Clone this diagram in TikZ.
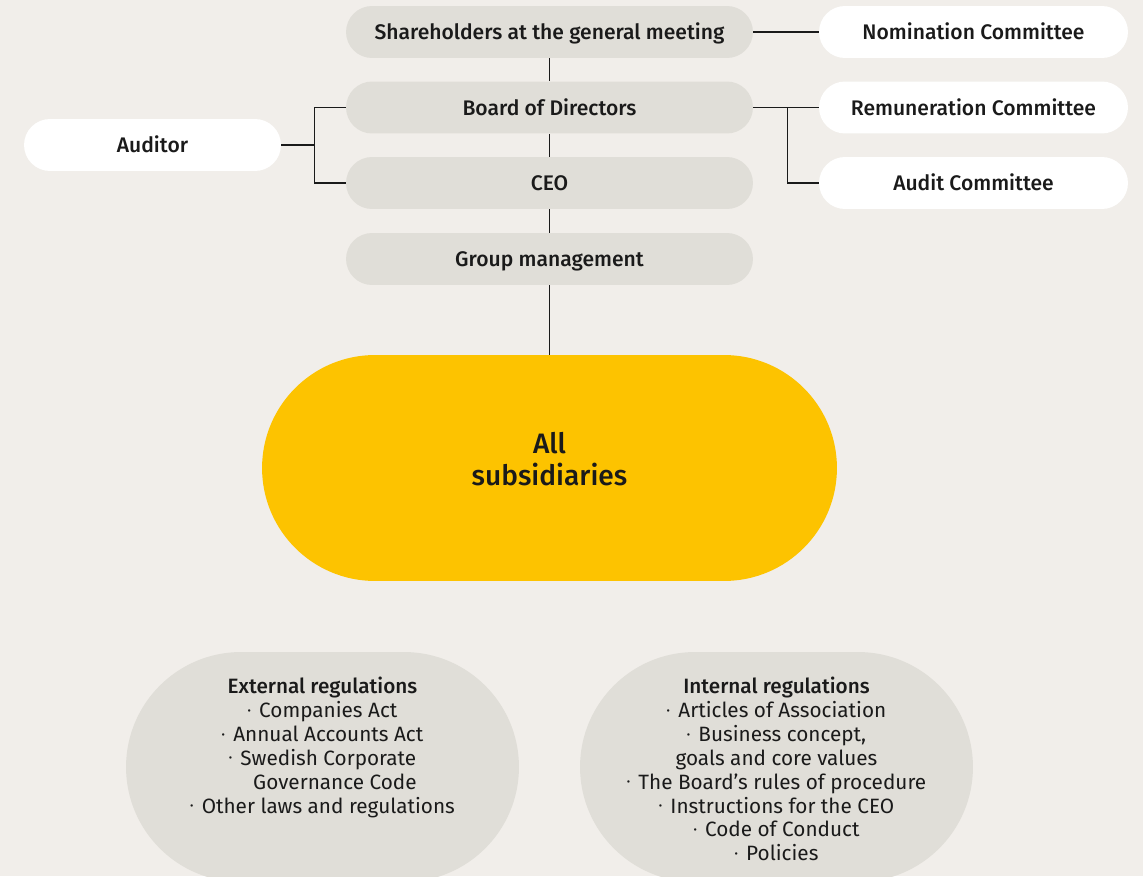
\documentclass[tikz,border=0pt]{standalone}
\usepackage{fontspec}
\setmainfont{Fira Sans}
\IfFontExistsTF{Fira Sans Medium}
  {\newfontfamily\medfont{Fira Sans Medium}}
  {\newfontfamily\medfont{Fira Sans}}
\usetikzlibrary{positioning}

\definecolor{paper}{HTML}{F1EEEA}
\definecolor{stone}{HTML}{E0DED8}
\definecolor{gold}{HTML}{FDC300}
\definecolor{ink}{HTML}{1A1A1A}

\newcommand{\blt}{\raisebox{0.3ex}{\scalebox{0.5}{•}}\hspace{0.4em}}

\begin{document}
\begin{tikzpicture}[x=0.02cm, y=-0.02cm,
    pill/.style={rectangle, rounded corners=0.52cm, minimum height=1.04cm,
                 inner sep=0pt, text height=1.05em, text depth=0.15em,
                 text=ink, font=\medfont\fontsize{12}{14}\selectfont},
    organ/.style={pill, fill=stone, minimum width=8.14cm},
    side/.style={pill, fill=white, minimum width=6.18cm},
    regbox/.style={rectangle, fill=stone, rounded corners=2.3cm,
                   minimum width=7.86cm, minimum height=4.6cm},
    reglist/.style={align=center, inner sep=0pt, text=ink,
                    font=\fontsize{11.8}{13.6}\selectfont},
    link/.style={draw=ink, line width=0.6pt}]

    % background and page frame
    \fill[paper] (0,0) rectangle (1143,876);
    \useasboundingbox (0,0) rectangle (1143,876);
    \clip (0,0) rectangle (1143,876);

    % company bodies
    \node[organ] (share) at (549.5,32)  {Shareholders at the general meeting};
    \node[organ] (board) at (549.5,107.5) {Board of Directors};
    \node[organ] (ceo)   at (549.5,183) {CEO};
    \node[organ] (group) at (549.5,259) {Group management};

    \node[side] (nom)    at (973.5,32)  {Nomination Committee};
    \node[side] (remun)  at (973.5,107.5) {Remuneration Committee};
    \node[side] (audit)  at (973.5,183) {Audit Committee};
    \node[side, minimum width=5.14cm] (auditor) at (152.5,145) {Auditor};

    \node[rectangle, fill=gold, rounded corners=2.26cm, minimum width=11.5cm,
          minimum height=4.52cm] (subs) at (549.5,468) {};
    \node[align=center, text=ink, font=\medfont\fontsize{16}{18.2}\selectfont]
          (subslabel) at (549.5,459) {All\\subsidiaries};

    % regulations
    \node[regbox] (ext) at (322.5,767) {};
    \node[regbox] (int) at (776.5,767) {};

    \node[reglist, below=0.5cm of ext.north] (extlist)
        {{\medfont External regulations}\\
         \blt Companies Act\\
         \blt Annual Accounts Act\\
         \blt Swedish Corporate\\
         \hspace*{1.2em}Governance Code\\
         \blt Other laws and regulations};
    \node[reglist, below=0.5cm of int.north] (intlist)
        {{\medfont Internal regulations}\\
         \blt Articles of Association\\
         \blt Business concept,\\
         goals and core values\\
         \blt The Board's rules of procedure\\
         \blt Instructions for the CEO\\
         \blt Code of Conduct\\
         \blt Policies};

    % connections
    \draw[link] (share.east) -- (nom.west);
    \draw[link] (share.south) -- (board.north);
    \draw[link] (board.south) -- (ceo.north);
    \draw[link] (ceo.south) -- (group.north);
    \draw[link] (group.south) -- (subs.north);

    \draw[link] (board.east) -- (remun.west);
    \draw[link] (board.east) ++(34,0) coordinate (cfork) |- (audit.west);

    \draw[link] (auditor.east) -- ++(33,0) coordinate (afork);
    \draw[link] (afork) |- (board.west);
    \draw[link] (afork) |- (ceo.west);
\end{tikzpicture}
\end{document}
